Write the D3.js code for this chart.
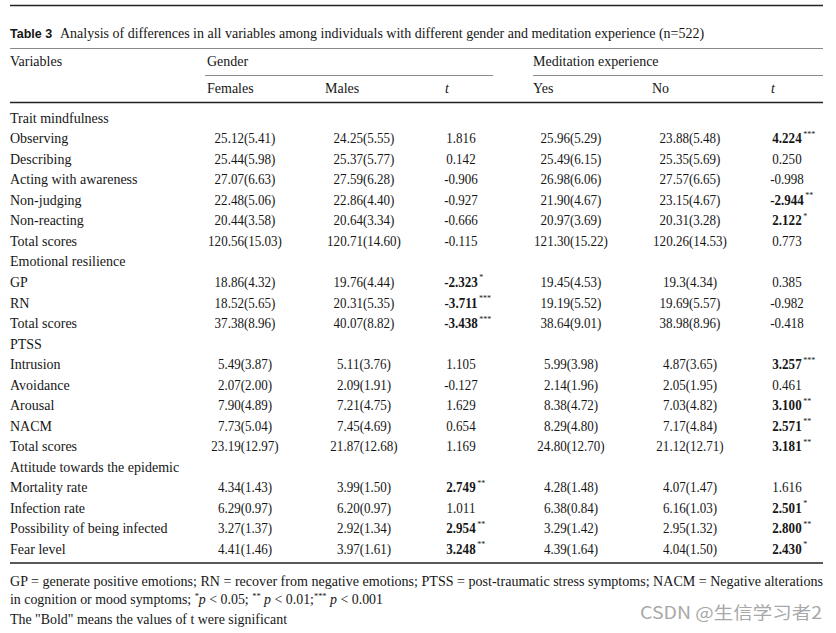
<!DOCTYPE html>
<html><head><meta charset="utf-8">
<script src="https://cdn.jsdelivr.net/npm/d3@7"></script>
<style>body{margin:0;background:#fff}</style>
</head><body>
<svg id="c" width="836" height="633"></svg>
<script>
// ---------- data ----------
const titleLabel = "Table 3";
const titleText = "Analysis of differences in all variables among individuals with different gender and meditation experience (n=522)";
const groupHeaders = ["Gender", "Meditation experience"];
const subHeaders = ["Females", "Males", "t", "Yes", "No", "t"];
const variables = ["Trait mindfulness","Observing","Describing","Acting with awareness","Non-judging","Non-reacting","Total scores",
  "Emotional resilience","GP","RN","Total scores",
  "PTSS","Intrusion","Avoidance","Arousal","NACM","Total scores",
  "Attitude towards the epidemic","Mortality rate","Infection rate","Possibility of being infected","Fear level"];
const females = [null,"25.12(5.41)","25.44(5.98)","27.07(6.63)","22.48(5.06)","20.44(3.58)","120.56(15.03)",
  null,"18.86(4.32)","18.52(5.65)","37.38(8.96)",
  null,"5.49(3.87)","2.07(2.00)","7.90(4.89)","7.73(5.04)","23.19(12.97)",
  null,"4.34(1.43)","6.29(0.97)","3.27(1.37)","4.41(1.46)"];
const males = [null,"24.25(5.55)","25.37(5.77)","27.59(6.28)","22.86(4.40)","20.64(3.34)","120.71(14.60)",
  null,"19.76(4.44)","20.31(5.35)","40.07(8.82)",
  null,"5.11(3.76)","2.09(1.91)","7.21(4.75)","7.45(4.69)","21.87(12.68)",
  null,"3.99(1.50)","6.20(0.97)","2.92(1.34)","3.97(1.61)"];
const genderT = [null,"1.816","0.142","-0.906","-0.927","-0.666","-0.115",
  null,"-2.323","-3.711","-3.438",
  null,"1.105","-0.127","1.629","0.654","1.169",
  null,"2.749","1.011","2.954","3.248"];
const genderSig = [null,"","","","","","",
  null,"*","***","***",
  null,"","","","","",
  null,"**","","**","**"];
const medYes = [null,"25.96(5.29)","25.49(6.15)","26.98(6.06)","21.90(4.67)","20.97(3.69)","121.30(15.22)",
  null,"19.45(4.53)","19.19(5.52)","38.64(9.01)",
  null,"5.99(3.98)","2.14(1.96)","8.38(4.72)","8.29(4.80)","24.80(12.70)",
  null,"4.28(1.48)","6.38(0.84)","3.29(1.42)","4.39(1.64)"];
const medNo = [null,"23.88(5.48)","25.35(5.69)","27.57(6.65)","23.15(4.67)","20.31(3.28)","120.26(14.53)",
  null,"19.3(4.34)","19.69(5.57)","38.98(8.96)",
  null,"4.87(3.65)","2.05(1.95)","7.03(4.82)","7.17(4.84)","21.12(12.71)",
  null,"4.07(1.47)","6.16(1.03)","2.95(1.32)","4.04(1.50)"];
const medT = [null,"4.224","0.250","-0.998","-2.944","2.122","0.773",
  null,"0.385","-0.982","-0.418",
  null,"3.257","0.461","3.100","2.571","3.181",
  null,"1.616","2.501","2.800","2.430"];
const medSig = [null,"***","","","**","*","",
  null,"","","",
  null,"***","","**","**","**",
  null,"","*","**","*"];
const footLine1 = "GP = generate positive emotions; RN = recover from negative emotions; PTSS = post-traumatic stress symptoms; NACM = Negative alterations";
const footLine2 = [["in cognition or mood symptoms; ",""],["*","sup"],["p","i"],[" < 0.05; ",""],["**","sup"],[" ",""],["p","i"],[" < 0.01;",""],["***","sup"],[" ",""],["p","i"],[" < 0.001",""]];
const footLine3 = 'The "Bold" means the values of t were significant';
const watermark = "CSDN @生信学习者2";

// ---------- layout ----------
const serif = '"Liberation Serif","Times New Roman",serif';
const ink = "#161616";
const svg = d3.select("#c");
const y = d3.scaleLinear().domain([0, variables.length - 1]).range([118, 549]);
const colKeys = ["f","m","gt","y","n","mt"];
const colX = d3.scaleOrdinal().domain(colKeys).range([245, 364, 461, 571, 690, 787]);
const headX = d3.scaleOrdinal().domain(colKeys).range([207, 325, 445, 533, 652, 771]);
const L = 10, R = 823, fs = 14, off = 4.8, squeeze = 0.93;

// rules
const rules = [
  {x1:L,x2:R,y:5.5,w:1.6,c:"#222"},
  {x1:L,x2:R,y:48.5,w:1.2,c:"#8a8a8a"},
  {x1:205,x2:493,y:75.5,w:1.2,c:"#8a8a8a"},
  {x1:533,x2:R,y:75.5,w:1.2,c:"#8a8a8a"},
  {x1:L,x2:R,y:102.5,w:1.6,c:"#222"},
  {x1:L,x2:R,y:563,w:1.4,c:"#222"}
];
svg.selectAll("line.rule").data(rules).join("line").attr("class","rule")
  .attr("x1",d=>d.x1).attr("x2",d=>d.x2).attr("y1",d=>d.y).attr("y2",d=>d.y)
  .attr("stroke",d=>d.c).attr("stroke-width",d=>d.w);

// title
svg.append("text").attr("x",L).attr("y",37.5).attr("font-family",'"Liberation Sans",Arial,sans-serif')
  .attr("font-weight","bold").attr("font-size",12.5).attr("fill",ink).text(titleLabel);
svg.append("text").attr("x",60).attr("y",37.5).attr("font-family",serif).attr("font-size",fs)
  .attr("fill",ink).text(titleText);

// headers
svg.append("text").attr("x",L).attr("y",61+off).attr("font-family",serif).attr("font-size",fs).attr("fill",ink).text("Variables");
svg.selectAll("text.gh").data(groupHeaders).join("text").attr("class","gh")
  .attr("x",(d,i)=>headX(i===0?"f":"y")).attr("y",61+off).attr("font-family",serif).attr("font-size",fs).attr("fill",ink).text(d=>d);
svg.selectAll("text.sh").data(subHeaders).join("text").attr("class","sh")
  .attr("x",(d,i)=>headX(colKeys[i])).attr("y",88+off).attr("font-family",serif).attr("font-size",fs)
  .attr("font-style",d=>d==="t"?"italic":"normal").attr("fill",ink).text(d=>d);

// row labels
svg.selectAll("text.rl").data(variables).join("text").attr("class","rl")
  .attr("x",L).attr("y",(d,i)=>y(i)+off).attr("font-family",serif).attr("font-size",fs).attr("fill",ink).text(d=>d);

// cells
const cols = [
  {k:"f",vals:females},{k:"m",vals:males},{k:"gt",vals:genderT,sig:genderSig},
  {k:"y",vals:medYes},{k:"n",vals:medNo},{k:"mt",vals:medT,sig:medSig}
];
cols.forEach(col=>{
  col.vals.forEach((v,i)=>{
    if(v===null) return;
    const bold = col.sig && col.sig[i] !== "";
    const t = svg.append("text").attr("x",colX(col.k)).attr("y",y(i)+off).attr("text-anchor","middle")
      .attr("font-family",serif).attr("font-size",fs).attr("font-weight",bold?"bold":"normal").attr("fill",ink).text(v);
    const w = t.node().getComputedTextLength() * squeeze;
    t.attr("textLength", w).attr("lengthAdjust","spacingAndGlyphs");
    if(bold){
      svg.append("text").attr("x",colX(col.k)+w/2+1.5).attr("y",y(i)+off-6.5)
        .attr("font-family",serif).attr("font-size",8).attr("fill",ink).text(col.sig[i]);
    }
  });
});

// footnotes
svg.append("text").attr("x",L).attr("y",586).attr("font-family",serif).attr("font-size",fs).attr("fill",ink)
  .attr("textLength",R-L).attr("lengthAdjust","spacingAndGlyphs").text(footLine1);
const f2 = svg.append("text").attr("x",L).attr("y",603.5).attr("font-family",serif).attr("font-size",fs).attr("fill",ink)
  .attr("textLength",373).attr("lengthAdjust","spacingAndGlyphs");
footLine2.forEach(([s,k])=>{
  const ts = f2.append("tspan").text(s);
  if(k==="i") ts.attr("font-style","italic");
  if(k==="sup") ts.attr("font-size",8.5).attr("baseline-shift","super");
});
svg.append("text").attr("x",L).attr("y",623.5).attr("font-family",serif).attr("font-size",fs).attr("fill",ink)
  .attr("textLength",277).attr("lengthAdjust","spacingAndGlyphs").text(footLine3);

// watermark
svg.append("text").attr("x",822).attr("y",618.5).attr("text-anchor","end")
  .attr("font-family",'"Noto Sans CJK SC","Noto Sans",sans-serif').attr("font-size",17)
  .attr("fill","#a8a8a8").attr("textLength",182).attr("lengthAdjust","spacingAndGlyphs").text(watermark);
</script>
</body></html>
